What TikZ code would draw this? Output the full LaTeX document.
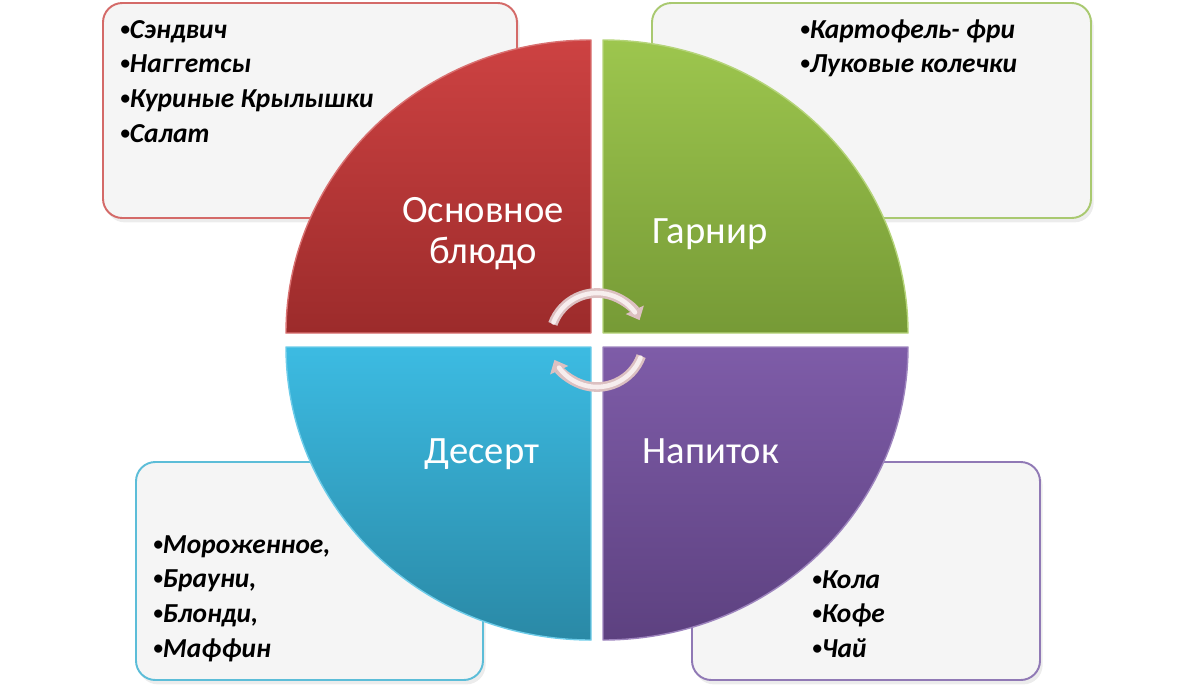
\documentclass[tikz,border=0pt]{standalone}
\usepackage{fontspec}
\setmainfont{Carlito}
\usetikzlibrary{
    arrows.meta,
    shadows
}
\newcommand\listdot{\raisebox{.1em}{\fontsize{11}{11}\selectfont\textbullet}}

\begin{document}
\begin{tikzpicture}
    [x=0.02cm,y=0.02cm,line join=round,
    % Styles
    list box/.style={draw=#1,line width=1.1pt,fill=boxfill,rounded corners=11pt,
        drop shadow={shadow xshift=1.5pt,shadow yshift=-2.5pt,opacity=.15}},
    quarter/.style 2 args={top color=#1,bottom color=#2,draw=#1!75!white,line width=.8pt},
    quarter label/.style={text=white,align=center,font=\fontsize{22}{23.2}\selectfont},
    item text/.style={anchor=base west,inner sep=0pt,
        font=\fontsize{15.6}{17}\selectfont\bfseries\itshape},
    cycle arrow/.style={line width=5.5pt,draw=arrowedge,-{Triangle[width=11pt,length=6.5pt]}},
    arrow light/.style={line width=2.6pt,draw=arrowfill,line cap=round}]

    % Colors
    \definecolor{redtop}{HTML}{CD4242}
    \definecolor{redbot}{HTML}{9C2B2B}
    \definecolor{greentop}{HTML}{9DC64E}
    \definecolor{greenbot}{HTML}{769A36}
    \definecolor{bluetop}{HTML}{3CBBE2}
    \definecolor{bluebot}{HTML}{2A89A6}
    \definecolor{purpletop}{HTML}{7E5CA8}
    \definecolor{purplebot}{HTML}{5D4180}
    \definecolor{redline}{HTML}{D46A68}
    \definecolor{greenline}{HTML}{A9C970}
    \definecolor{blueline}{HTML}{5CBDD8}
    \definecolor{purpleline}{HTML}{9079B5}
    \definecolor{boxfill}{HTML}{F5F5F5}
    \definecolor{arrowedge}{HTML}{DCC0C1}
    \definecolor{arrowfill}{HTML}{F7EEEE}

    \useasboundingbox (-597,-351) rectangle (598,340);

    % The boxes behind
    \draw[list box=redline] (-494,122) rectangle (-80,337);
    \draw[list box=greenline] (55,122) rectangle (494,337);
    \draw[list box=blueline] (-461,-340) rectangle (-114,-122);
    \draw[list box=purpleline] (95,-340) rectangle (443,-122);

    % The quarters
    \path[quarter={redtop}{redbot}]
        (-6,7) -- (-311,7) arc [start angle=180, end angle=90, x radius=305, y radius=293] -- cycle;
    \path[quarter={greentop}{greenbot}]
        (6,7) -- (6,300) arc [start angle=90, end angle=0, x radius=305, y radius=293] -- cycle;
    \path[quarter={bluetop}{bluebot}]
        (-6,-7) -- (-6,-300) arc [start angle=270, end angle=180, x radius=305, y radius=293] -- cycle;
    \path[quarter={purpletop}{purplebot}]
        (6,-7) -- (311,-7) arc [start angle=0, end angle=-90, x radius=305, y radius=293] -- cycle;

    \node[quarter label] (main) at (-114,106) {Основное\\блюдо};
    \node[quarter label,anchor=base] (side) at (113,97) {Гарнир};
    \node[quarter label,anchor=base] (dessert) at (-115,-123) {Десерт};
    \node[quarter label,anchor=base] (drink) at (114,-123) {Напиток};

    % The lists
    \foreach \dish [count=\i] in {Сэндвич,Наггетсы,Куриные Крылышки,Салат}
        \node[item text] (main-\i) at (-477,{302-34.7*(\i-1)}) {\listdot\dish};
    \foreach \dish [count=\i] in {Картофель- фри,Луковые колечки}
        \node[item text] (side-\i) at (203,{302-34.7*(\i-1)}) {\listdot\dish};
    \foreach \dish [count=\i] in {{Мороженное,},{Брауни,},{Блонди,},{Маффин}}
        \node[item text] (dessert-\i) at (-444,{-213-34.7*(\i-1)}) {\listdot\dish};
    \foreach \dish [count=\i] in {Кола,Кофе,Чай}
        \node[item text] (drink-\i) at (215,{-248-34.7*(\i-1)}) {\listdot\dish};

    % cycle arrows in the middle
    \draw[cycle arrow] (160:47) arc [start angle=160, end angle=25, radius=47];
    \draw[cycle arrow] (-20:47) arc [start angle=-20, end angle=-155, radius=47];
    \draw[arrow light] (158:47) arc [start angle=158, end angle=36, radius=47];
    \draw[arrow light] (-22:47) arc [start angle=-22, end angle=-144, radius=47];
\end{tikzpicture}
\end{document}
